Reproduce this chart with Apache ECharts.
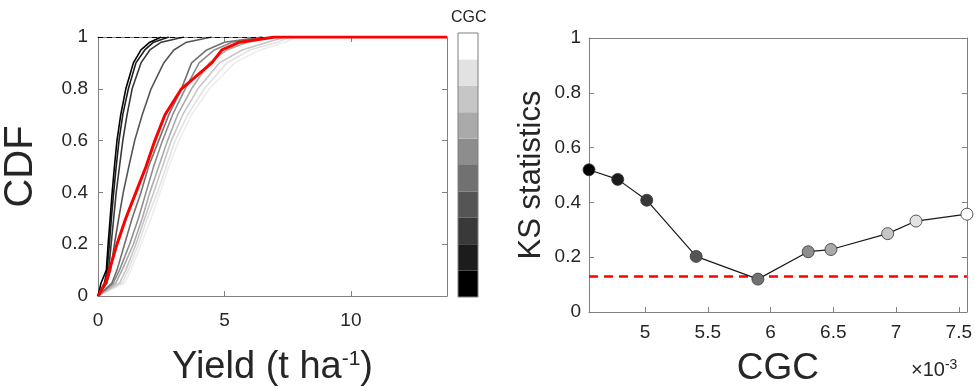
<!DOCTYPE html>
<html>
<head>
<meta charset="utf-8">
<script src="https://cdn.jsdelivr.net/npm/echarts@6/dist/echarts.min.js"></script>
<style>
  html, body { margin: 0; padding: 0; background: #fff; }
  #main { width: 975px; height: 392px; }
</style>
</head>
<body>
<div id="main"></div>
<script>
// CDF levels shared by every curve
const cdfLevels = [0, 0.05, 0.1, 0.2, 0.3, 0.4, 0.5, 0.6, 0.7, 0.8, 0.9, 0.95, 0.98, 1]

// simulated yield (t/ha) at each CDF level, one array per CGC value (dark -> light)
const yieldCgc1 = [0, 0.12, 0.33, 0.4, 0.48, 0.56, 0.65, 0.75, 0.9, 1.1, 1.4, 1.7, 2.05, 2.5]
const yieldCgc2 = [0, 0.25, 0.36, 0.45, 0.53, 0.62, 0.72, 0.83, 0.98, 1.2, 1.5, 1.85, 2.2, 2.8]
const yieldCgc3 = [0, 0.3, 0.42, 0.52, 0.62, 0.72, 0.85, 0.98, 1.15, 1.35, 1.7, 2.05, 2.5, 3.4]
const yieldCgc4 = [0, 0.35, 0.5, 0.65, 0.82, 1.0, 1.22, 1.45, 1.75, 2.1, 2.6, 3.0, 3.5, 4.5]
const yieldCgc5 = [0, 0.55, 0.75, 1.05, 1.35, 1.7, 2.0, 2.4, 2.8, 3.3, 3.7, 4.3, 5.0, 6.5]
const yieldCgc6 = [0, 0.6, 0.85, 1.25, 1.6, 1.9, 2.2, 2.55, 2.95, 3.45, 4.0, 4.6, 5.3, 6.5]
const yieldCgc7 = [0, 0.7, 0.95, 1.4, 1.75, 2.05, 2.4, 2.75, 3.15, 3.7, 4.4, 5.1, 5.9, 7.0]
const yieldCgc8 = [0, 0.85, 1.1, 1.5, 1.85, 2.2, 2.55, 2.9, 3.35, 3.95, 4.8, 5.7, 6.7, 7.4]
const yieldCgc9 = [0, 0.95, 1.2, 1.6, 1.95, 2.35, 2.7, 3.05, 3.55, 4.2, 5.1, 6.0, 7.1, 7.6]
const yieldCgc10 = [0, 1.05, 1.3, 1.7, 2.1, 2.45, 2.8, 3.2, 3.7, 4.4, 5.4, 6.4, 7.4, 7.8]
// observed yield
const yieldObserved = [0, 0.3, 0.45, 0.75, 1.1, 1.5, 1.9, 2.25, 2.65, 3.3, 4.5, 4.9, 5.6, 7.0]
const yieldAxisMax = 13.8

// KS statistic per CGC value (x 10^-3)
const cgcValues = [4.553, 4.782, 5.013, 5.407, 5.899, 6.30, 6.481, 6.933, 7.159, 7.565]
const ksValues = [0.519, 0.484, 0.408, 0.203, 0.120, 0.220, 0.228, 0.286, 0.332, 0.357]
const ksThreshold = 0.125

const cgcColors = ['#000000', '#1c1c1c', '#393939', '#555555', '#717171',
	'#8d8d8d', '#aaaaaa', '#c6c6c6', '#e2e2e2', '#ffffff']

const yieldTicks = [0, 5, 10]
const cgcTicks = [5, 5.5, 6, 6.5, 7, 7.5]

const simCurves = [yieldCgc1, yieldCgc2, yieldCgc3, yieldCgc4, yieldCgc5,
	yieldCgc6, yieldCgc7, yieldCgc8, yieldCgc9, yieldCgc10]

const FONT = 'Liberation Sans'
const AXIS_GREY = '#808080'
const TEXT_DARK = '#262626'

const myChart = echarts.init(document.getElementById('main'), null, { renderer: 'canvas' })

// small helpers for the boxed, matlab-like axes
function boxX(gridIndex, position, extra) {
	return Object.assign({
		gridIndex: gridIndex,
		type: 'value',
		position: position,
		axisLine: { show: true, onZero: false, lineStyle: { color: AXIS_GREY, width: 1 } },
		axisTick: { show: true, inside: true, length: 5, lineStyle: { color: AXIS_GREY } },
		axisLabel: { show: false },
		splitLine: { show: false },
	}, extra)
}
function boxY(gridIndex, position, extra) {
	return Object.assign({
		gridIndex: gridIndex,
		type: 'value',
		position: position,
		min: 0,
		max: 1,
		interval: 0.2,
		axisLine: { show: true, onZero: false, lineStyle: { color: AXIS_GREY, width: 1 } },
		axisTick: { show: true, inside: true, length: 5, lineStyle: { color: AXIS_GREY } },
		axisLabel: { show: false },
		splitLine: { show: false },
	}, extra)
}

const labelStyle = { show: true, fontFamily: FONT, fontSize: 19, color: TEXT_DARK }
function nameStyle(size, supSize, supPad) {
	return {
		fontFamily: FONT,
		fontSize: size,
		color: TEXT_DARK,
		rich: {
			sup: { fontFamily: FONT, fontSize: supSize, color: TEXT_DARK, verticalAlign: 'top', padding: [0, 0, supPad, 0] },
		},
	}
}

let seriesList = []

// CDF curves
simCurves.forEach((curve, i) => {
	seriesList.push({
		type: 'line',
		xAxisIndex: 0,
		yAxisIndex: 0,
		showSymbol: false,
		symbol: 'none',
		lineStyle: { color: cgcColors[i] === '#ffffff' ? '#ededed' : cgcColors[i], width: 1.6 },
		z: 3 + (simCurves.length - i) * 0.1,
		data: curve.map((x, j) => [x, cdfLevels[j]]),
		markLine: i === 0 ? {
			silent: true,
			symbol: 'none',
			label: { show: false },
			lineStyle: { color: '#000', type: [5, 4], width: 1 },
			data: [{ yAxis: 1 }],
		} : undefined,
	})
})
seriesList.push({
	type: 'line',
	xAxisIndex: 0,
	yAxisIndex: 0,
	symbol: 'none',
	lineStyle: { color: '#ff0000', width: 3 },
	z: 5,
	data: yieldObserved.map((x, j) => [x, cdfLevels[j]]).concat([[yieldAxisMax, 1]]),
})

// KS statistic line
seriesList.push({
	type: 'line',
	xAxisIndex: 2,
	yAxisIndex: 2,
	symbol: 'circle',
	symbolSize: 12,
	lineStyle: { color: '#1a1a1a', width: 1.2 },
	itemStyle: { borderColor: '#333', borderWidth: 0.8 },
	z: 4,
	data: cgcValues.map((x, i) => ({ value: [x, ksValues[i]], itemStyle: { color: cgcColors[i] } })),
	markLine: {
		silent: true,
		symbol: 'none',
		label: { show: false },
		lineStyle: { color: '#ff0000', type: [9, 6], width: 2.5 },
		data: [{ yAxis: ksThreshold }],
		z: 3,
	},
})

// colour bar: one stacked block per CGC value
cgcColors.forEach((c, i) => {
	seriesList.push({
		type: 'bar',
		xAxisIndex: 4,
		yAxisIndex: 4,
		stack: 'cb',
		barWidth: '100%',
		silent: true,
		itemStyle: { color: c },
		data: [1],
	})
})

let option = {
	backgroundColor: '#fff',
	animation: false,
	grid: [
		{ left: 95, top: 37, width: 352, height: 259 },
		{ left: 589, top: 38, width: 378, height: 275 },
		{ left: 458, top: 33, width: 20, height: 264, show: true, borderColor: AXIS_GREY, borderWidth: 1, z: 10 },
	],
	xAxis: [
		boxX(0, 'bottom', {
			min: 0,
			max: yieldAxisMax,
			axisTick: { show: true, inside: true, length: 5, customValues: yieldTicks, lineStyle: { color: AXIS_GREY } },
			axisLabel: Object.assign({ margin: 15, customValues: yieldTicks }, labelStyle),
			name: 'Yield (t ha{sup|-1})',
			nameLocation: 'middle',
			nameGap: 53,
			nameTextStyle: nameStyle(38, 21, 16),
		}),
		boxX(0, 'top', {
			min: 0,
			max: yieldAxisMax,
			axisTick: { show: true, inside: true, length: 5, customValues: yieldTicks, lineStyle: { color: AXIS_GREY } },
		}),
		boxX(1, 'bottom', {
			min: 'dataMin',
			max: 'dataMax',
			axisTick: { show: true, inside: true, length: 5, customValues: cgcTicks, lineStyle: { color: AXIS_GREY } },
			axisLabel: Object.assign({ margin: 11, customValues: cgcTicks }, labelStyle),
			name: 'CGC',
			nameLocation: 'middle',
			nameGap: 38,
			nameTextStyle: nameStyle(37, 20, 14),
		}),
		boxX(1, 'top', {
			min: 'dataMin',
			max: 'dataMax',
			axisTick: { show: true, inside: true, length: 5, customValues: cgcTicks, lineStyle: { color: AXIS_GREY } },
		}),
		{
			gridIndex: 2,
			type: 'category',
			data: ['CGC'],
			show: false,
		},
	],
	yAxis: [
		boxY(0, 'left', {
			axisLabel: Object.assign({ margin: 10 }, labelStyle),
			name: 'CDF',
			nameLocation: 'middle',
			nameGap: 57,
			nameTextStyle: nameStyle(40, 20, 14),
		}),
		boxY(0, 'right'),
		boxY(1, 'left', {
			axisLabel: Object.assign({ margin: 8 }, labelStyle),
			name: 'KS statistics',
			nameLocation: 'middle',
			nameGap: 42,
			nameTextStyle: nameStyle(31, 18, 12),
		}),
		boxY(1, 'right'),
		{
			gridIndex: 2,
			type: 'value',
			min: 0,
			max: cgcColors.length,
			show: false,
		},
	],
	graphic: [
		{
			type: 'text',
			left: 451,
			top: 10,
			style: { text: 'CGC', fontFamily: FONT, fontSize: 16, fill: TEXT_DARK },
		},
		{
			type: 'text',
			left: 911,
			top: 358,
			style: {
				text: '×10{sup|-3}',
				fontFamily: FONT,
				fontSize: 20,
				fill: TEXT_DARK,
				rich: {
					sup: { fontFamily: FONT, fontSize: 14, fill: TEXT_DARK, verticalAlign: 'top', padding: [0, 0, 10, 0] },
				},
			},
		},
	],
	series: seriesList,
}
myChart.setOption(option)
window.addEventListener('resize', () => {
	myChart.resize()
})
</script>
</body>
</html>
